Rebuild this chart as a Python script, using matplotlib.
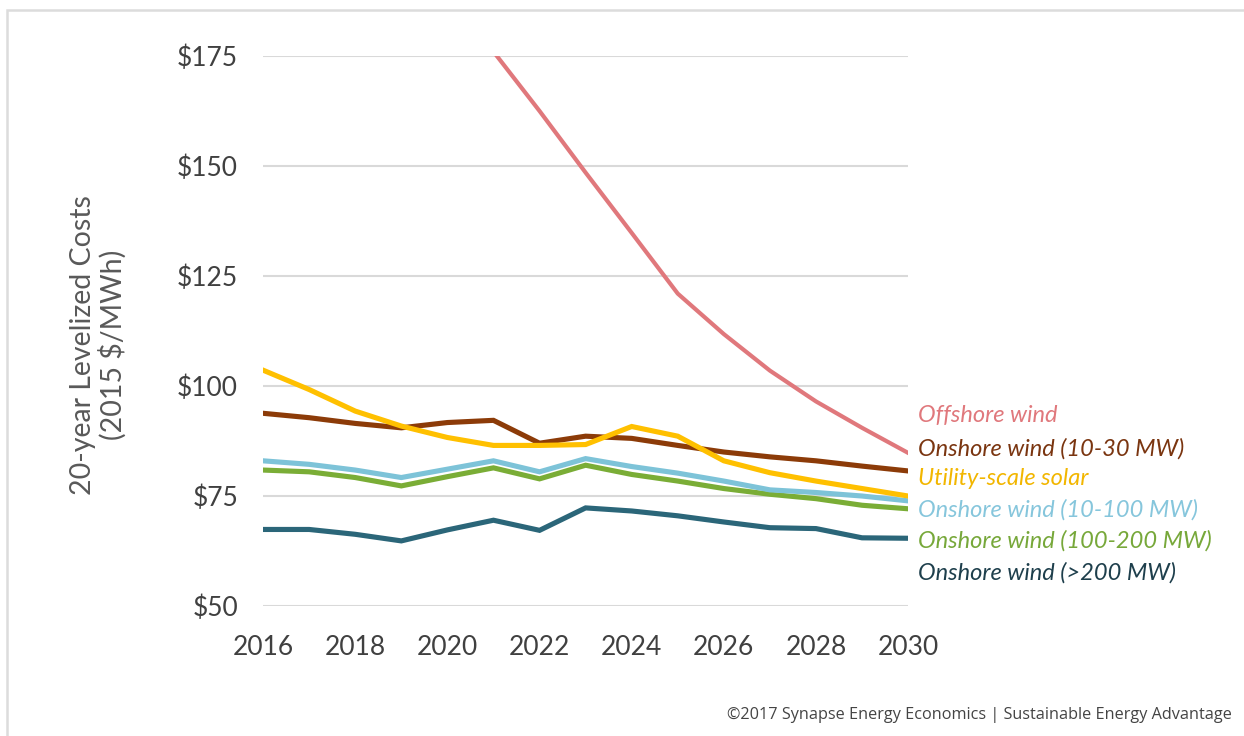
import matplotlib
matplotlib.use("Agg")
import matplotlib.pyplot as plt
from matplotlib.patches import Rectangle

# anos
years = list(range(2016, 2031))

# costos nivelados a 20 anos (2015 $/MWh)
offshore_years = list(range(2021, 2031))
offshore = [176.0, 162.5, 148.5, 134.8, 121.0, 111.8, 103.5, 96.5, 90.5, 84.8]
onshore_10_30 = [93.8, 92.8, 91.5, 90.5, 91.7, 92.2, 87.0, 88.6, 88.1, 86.5, 85.0, 83.9, 83.0, 81.8, 80.7]
solar = [103.6, 99.2, 94.3, 90.9, 88.3, 86.5, 86.5, 86.7, 90.8, 88.6, 83.0, 80.3, 78.4, 76.7, 75.0]
onshore_10_100 = [83.0, 82.2, 80.9, 79.2, 81.1, 83.0, 80.5, 83.5, 81.7, 80.2, 78.4, 76.4, 75.8, 75.0, 73.9]
onshore_100_200 = [80.9, 80.5, 79.2, 77.3, 79.4, 81.4, 78.9, 82.0, 79.9, 78.4, 76.7, 75.4, 74.4, 72.9, 72.1]
onshore_200 = [67.4, 67.4, 66.3, 64.8, 67.3, 69.5, 67.2, 72.3, 71.6, 70.5, 69.1, 67.8, 67.6, 65.5, 65.4]

series_names = ["Offshore wind", "Onshore wind (10-30 MW)", "Utility-scale solar",
                "Onshore wind (10-100 MW)", "Onshore wind (100-200 MW)", "Onshore wind (>200 MW)"]

y_ticks = [50, 75, 100, 125, 150, 175]
x_ticks = list(range(2016, 2031, 2))

# colores de linea y de texto
line_colors = ["#e0787c", "#8c3b08", "#ffc000", "#7dc3d8", "#7aad36", "#2b6679"]
text_colors = ["#e0787c", "#7a3510", "#f2b600", "#86c6dc", "#77a83a", "#1e3f4c"]
widths = [3.0, 3.7, 3.7, 3.7, 3.7, 3.7]
# posicion vertical de las etiquetas (en $)
label_y = [93.2, 85.7, 78.9, 71.8, 64.8, 57.5]

plt.rcParams['font.family'] = ['Lato', 'DejaVu Sans']

fig = plt.figure(figsize=(12.44, 7.36), dpi=100)
ax = fig.add_axes([0.2115, 0.1766, 0.5185, 0.7473])

# borde gris claro de la figura
fig.patches.append(Rectangle((7 / 1244, -0.01), 1.02, 1 - 10 / 736 + 0.01,
                             transform=fig.transFigure, fill=False,
                             edgecolor="#dcdcdc", linewidth=1.8))

for y in y_ticks:
    ax.axhline(y, color="#d9d9d9", linewidth=1.5, zorder=0)

xs_all = [offshore_years, years, years, years, years, years]
ys_all = [offshore, onshore_10_30, solar, onshore_10_100, onshore_100_200, onshore_200]
# dibujar de abajo hacia arriba como en el original
for i in [5, 4, 3, 1, 2, 0]:
    ax.plot(xs_all[i], ys_all[i], color=line_colors[i], linewidth=widths[i],
            solid_joinstyle="miter", zorder=3)

ax.set_xlim(2016, 2030)
ax.set_ylim(50, 175)
ax.set_yticks(y_ticks)
ax.set_yticklabels(["$%d" % v for v in y_ticks])
ax.set_xticks(x_ticks)
ax.set_xticklabels([str(v) for v in x_ticks])
ax.tick_params(axis="both", length=0, colors="#404040")
ax.tick_params(axis="y", pad=18, labelsize=19)
ax.tick_params(axis="x", pad=21, labelsize=19)
for s in ax.spines.values():
    s.set_visible(False)

ax.set_ylabel("20-year Levelized Costs\n(2015 $/MWh)", fontsize=20.5, color="#595959",
              linespacing=1.1)
ax.yaxis.set_label_coords(-0.211, 0.475)

for name, c, y in zip(series_names, text_colors, label_y):
    ax.text(1.016, y, name, transform=ax.get_yaxis_transform(), color=c,
            fontsize=17, style="italic", va="center", ha="left", clip_on=False)

fig.text(1232 / 1244, 1 - 715 / 736,
         "\u00a92017 Synapse Energy Economics | Sustainable Energy Advantage",
         family=['Open Sans', 'DejaVu Sans'], fontsize=11.7,
         color="#444444", ha="right", va="center")

fig.savefig("out.png", dpi=100)
